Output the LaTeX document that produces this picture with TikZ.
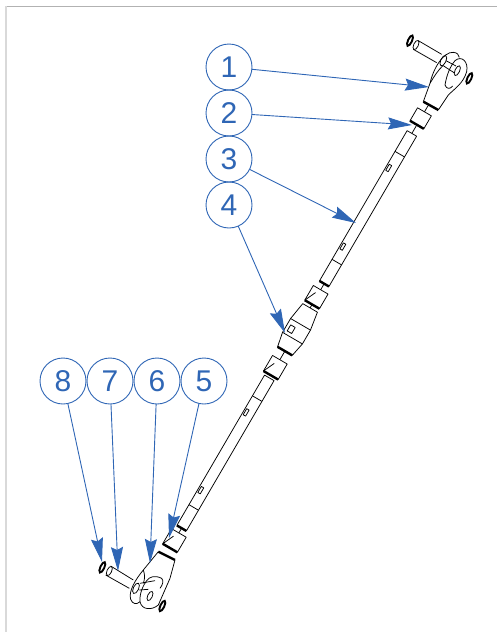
\documentclass[tikz,border=0pt]{standalone}
\usepackage{fontspec}
\setmainfont{Liberation Sans}
\usetikzlibrary{positioning,arrows.meta}
\definecolor{callout}{HTML}{2F66B5}

\begin{document}
\begin{tikzpicture}[x=1pt,y=-1pt,
balloon/.style={circle,draw=callout,line width=.9pt,inner sep=0pt,outer sep=0pt,minimum size=46pt,text=callout,font=\fontsize{30}{30}\selectfont},
paths/.style={draw=callout,line width=.9pt,-{Stealth[length=24pt,width=12pt,inset=3pt]}},
part/.style={draw=black,line width=.75pt,line join=round},
shoulder/.style={draw=black,line width=2.4pt},
washer/.style={draw=black,line width=1.9pt},
upper/.style={shift={(380,20)},x=.3333pt,y=-.3333pt},
lower/.style={shift={(90,510)},x=.3333pt,y=-.3333pt},
axial/.style={shift={(297.5,329.5)},x={(.5038pt,.8638pt)},y={(-.8638pt,.5038pt)}}
]
\useasboundingbox (0,0) rectangle (497,632);

%page frame
\draw[color=black!30,line width=1pt] (6,6.5) -- (497,6.5);
\draw[color=black!15,line width=2pt] (6,6) -- (6,632);

%parts along the bar
\begin{scope}[axial]
%coupler
\draw[part] (25,8.5) -- (6,11.5) -- (-10,11.5) -- (-25,8.5) -- (-25,-8.5) -- (-10,-11.5) -- (6,-11.5) -- (25,-8.5) -- cycle;
\draw[part] (6,11.5) -- (6,-11.5);
\draw[part] (-10,11.5) -- (-10,-11.5);
\draw[part] (-6.4,3) -- (.6,3) -- (.6,8.2) -- (-6.4,8.2) -- cycle;
\draw[shoulder] (-25,8.5) -- (-25,-8.5);
%upper block
\draw[part] (29,8.5) -- (46,8.5) -- (46,-8.5) -- (29,-8.5);
\draw[shoulder] (29,8.5) -- (29,-8.5);
\draw[part] (29,8.5) -- (41,3);
\draw[part] (25,0) -- (29,0);
\draw[part] (46,0) -- (53,0);
%lower block
\draw[part] (-53,8.5) -- (-35,8.5) -- (-35,-8.5) -- (-53,-8.5);
\draw[shoulder] (-53,8.5) -- (-53,-8.5);
\draw[part] (-53,8.5) -- (-41,3);
\draw[part] (-25,0) -- (-35,0);
%upper rod
\draw[part] (53,5.5) -- (227,5.5) -- (227,-5.5) -- (53,-5.5);
\draw[shoulder] (53,5.5) -- (53,-5.5);
\draw[part] (78,5.5) -- (78,-5.5);
\draw[part] (203,5.5) -- (203,-5.5);
\draw[part] (91,1.2) -- (98,1.2) -- (98,4) -- (91,4) -- cycle;
\draw[part] (182,1.2) -- (189,1.2) -- (189,4) -- (182,4) -- cycle;
%lower rod
\draw[part] (-230,5.5) -- (-56,5.5) -- (-56,-5.5) -- (-230,-5.5);
\draw[shoulder] (-230,5.5) -- (-230,-5.5);
\draw[part] (-80,5.5) -- (-80,-5.5);
\draw[part] (-206,5.5) -- (-206,-5.5);
\draw[part] (-101,1.2) -- (-94,1.2) -- (-94,4) -- (-101,4) -- cycle;
\draw[part] (-191,1.2) -- (-184,1.2) -- (-184,4) -- (-191,4) -- cycle;
%top block
\draw[part] (237,8) -- (252,8) -- (252,-8) -- (237,-8);
\draw[shoulder] (237,8) -- (237,-8);
\draw[part] (227,0) -- (237,0);
\draw[part] (252,0) -- (259,0);
%bottom block
\draw[part] (-253,8.5) -- (-235.5,8.5) -- (-235.5,-8.5) -- (-253,-8.5);
\draw[shoulder] (-253,8.5) -- (-253,-8.5);
\draw[part] (-253,8.5) -- (-241,3);
\draw[part] (-230,0) -- (-235.5,0);
\end{scope}

%upper fork
\begin{scope}[upper]
\draw[part] (130,245) -- (150,190) .. controls (160,145) and (190,95) .. (220,97) .. controls (232,98) and (236,104) .. (238,112);
\draw[part] (150,190) .. controls (165,165) and (175,150) .. (188,138);
\draw[part] (175,270) -- (205,225) .. controls (225,205) and (250,190) .. (260,155) .. controls (266,125) and (245,105) .. (225,122) .. controls (210,140) and (200,165) .. (195,195);
\draw[part] (195,195) .. controls (200,208) and (210,208) .. (218,198);
\draw[part] (232,152) ellipse [x radius=7,y radius=16,rotate=-25];
\draw[part] (190,122) ellipse [x radius=8,y radius=17,rotate=-25];
\draw[part] (115,62) -- (185,103);
\draw[part] (100,88) -- (170,128);
\draw[part] (108,75) ellipse [x radius=7,y radius=15,rotate=-25];
\draw[part] (198,122) -- (228,138);
\draw[part] (188,136) -- (222,158);
\draw[washer] (90,62) ellipse [x radius=6,y radius=17,rotate=-25];
\draw[washer] (268,175) ellipse [x radius=6,y radius=17,rotate=-25];
\draw[shoulder] (130,245) -- (175,270);
\end{scope}

%lower fork
\begin{scope}[lower]
\draw[part] (205,125) -- (160,180) .. controls (135,210) and (115,245) .. (122,268) .. controls (127,282) and (140,285) .. (150,275);
\draw[part] (160,180) .. controls (165,195) and (165,205) .. (160,220);
\draw[part] (255,150) -- (240,205) -- (205,285) .. controls (185,302) and (155,300) .. (150,275) .. controls (148,250) and (160,225) .. (170,212) .. controls (178,200) and (195,195) .. (215,205) .. controls (222,212) and (218,225) .. (210,235);
\draw[part] (180,258) ellipse [x radius=7,y radius=15,rotate=-25];
\draw[part] (138,235) ellipse [x radius=8,y radius=17,rotate=-25];
\draw[part] (62,168) -- (130,210);
\draw[part] (47,195) -- (118,235);
\draw[part] (58,183) ellipse [x radius=7,y radius=15,rotate=-25];
\draw[part] (150,220) -- (195,212);
\draw[part] (148,240) -- (175,238);
\draw[washer] (37,172) ellipse [x radius=6,y radius=17,rotate=-25];
\draw[washer] (217,288) ellipse [x radius=6,y radius=17,rotate=-25];
\draw[shoulder] (205,125) -- (255,150);
\end{scope}

%create balloons
\node[balloon] (b1) at (229,67) {1};
\node[balloon, below=0pt of b1] (b2) {2};
\node[balloon, below=0pt of b2] (b3) {3};
\node[balloon, below=0pt of b3] (b4) {4};
\node[balloon] (b5) at (204,381) {5};
\node[balloon, left=1pt of b5] (b6) {6};
\node[balloon, left=1pt of b6] (b7) {7};
\node[balloon, left=1pt of b7] (b8) {8};

%arrow targets
\coordinate (t1) at (429,87);
\coordinate (t2) at (412,125);
\coordinate (t3) at (356,223);
\coordinate (t4) at (285,333);
\coordinate (t5) at (169,538);
\coordinate (t6) at (150,563);
\coordinate (t7) at (118,571);
\coordinate (t8) at (102,562);

%draw arrows
\draw[paths] (b1) -- (t1);
\draw[paths] (b2) -- (t2);
\draw[paths] (b3) -- (t3);
\draw[paths] (b4) -- (t4);
\draw[paths] (b5) -- (t5);
\draw[paths] (b6) -- (t6);
\draw[paths] (b7) -- (t7);
\draw[paths] (b8) -- (t8);

\end{tikzpicture}
\end{document}
